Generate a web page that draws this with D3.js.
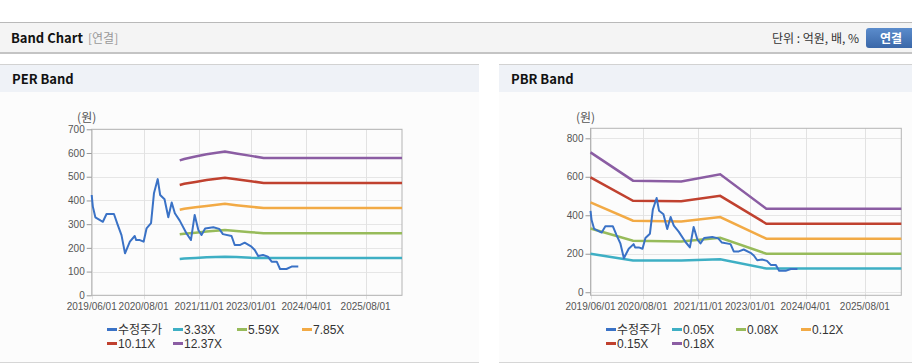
<!DOCTYPE html>
<html>
<head>
<meta charset="utf-8">
<script src="https://cdn.jsdelivr.net/npm/d3@7"></script>
<style>
  body { margin: 0; background: #fff; }
  svg { display: block; font-family: "Noto Sans CJK KR", "Liberation Sans", sans-serif; }
  .tick-label { font-family: "Liberation Sans", Arial, sans-serif; font-size: 10px; fill: #555; }
  .legend-label { font-family: "Liberation Sans", "Noto Sans CJK KR", sans-serif; font-size: 12px; fill: #333; }
</style>
</head>
<body>
<svg id="chart" width="912" height="364"></svg>
<script>
// adjusted share price (수정주가)
const priceDates = ['2019-06-01','2019-06-10','2019-07-01','2019-08-15','2019-09-01','2019-10-01','2019-12-01',
  '2020-01-01','2020-02-01','2020-03-01','2020-04-10','2020-05-20','2020-06-01','2020-07-01','2020-08-01',
  '2020-08-25','2020-10-01','2020-10-25','2020-11-25','2020-12-15','2021-01-20','2021-02-20','2021-03-20',
  '2021-04-15','2021-05-25','2021-07-20','2021-08-25','2021-09-25','2021-10-25','2021-11-20','2021-12-20',
  '2022-02-25','2022-04-15','2022-05-15','2022-07-25','2022-08-20','2022-10-01','2022-11-10','2023-01-05',
  '2023-02-01','2023-03-01','2023-04-10','2023-05-20','2023-06-20','2023-08-01','2023-08-28','2023-10-20',
  '2023-12-01','2024-01-25'];
const priceValues = [423, 375, 329, 315, 310, 343, 343,
  297, 254, 177, 226, 250, 233, 233, 226,
  282, 304, 430, 490, 423, 405, 329, 391,
  346, 315, 261, 233, 339, 275, 254, 282,
  287, 280, 258, 250, 212, 212, 222, 205,
  191, 166, 170, 163, 142, 142, 111, 111,
  121, 121];

// PER band
const perDates = ['2021-05-25','2021-07-01','2021-10-01','2022-01-01','2022-06-01','2022-09-01','2023-01-01','2023-04-15','2026-05-27'];
const per333 = [153, 155, 157, 160, 163, 161, 158, 157, 157];
const per559 = [257, 260, 264, 269, 275, 271, 266, 262, 262];
const per785 = [361, 365, 371, 377, 386, 380, 373, 368, 368];
const per1011 = [465, 470, 478, 486, 496, 489, 481, 474, 474];
const per1237 = [569, 575, 585, 595, 606, 598, 588, 579, 579];

// PBR band
const pbrDates = ['2019-06-01','2020-05-15','2021-06-15','2022-05-01','2023-05-15','2026-05-27'];
const pbr005 = [200, 165, 165, 171, 123, 123];
const pbr008 = [331, 268, 264, 283, 200, 200];
const pbr012 = [467, 372, 367, 391, 278, 278];
const pbr015 = [597, 475, 473, 501, 356, 356];
const pbr018 = [727, 580, 576, 613, 434, 434];

const xTickLabels = ['2019/06/01','2020/08/01','2021/11/01','2023/01/01','2024/04/01','2025/08/01'];
const xDomain = ['2019-06-01', '2026-05-27'];
const perYTicks = [0, 100, 200, 300, 400, 500, 600, 700];
const pbrYTicks = [0, 200, 400, 600, 800];

const perLabels = ['수정주가', '3.33X', '5.59X', '7.85X', '10.11X', '12.37X'];
const pbrLabels = ['수정주가', '0.05X', '0.08X', '0.12X', '0.15X', '0.18X'];
const colors = ['#3a72c6', '#3eafc4', '#97bb5a', '#f2aa45', '#c0412f', '#8b5da3'];

const parse = d3.timeParse('%Y-%m-%d');
const parseTick = d3.timeParse('%Y/%m/%d');
const svg = d3.select('#chart');

// top header bar
svg.append('rect').attr('x', 0).attr('y', 22).attr('width', 912).attr('height', 31)
  .attr('fill', '#f4f4f4');
svg.append('line').attr('x1', 0).attr('x2', 912).attr('y1', 22.5).attr('y2', 22.5)
  .attr('stroke', '#b9b9b9');
svg.append('line').attr('x1', 0).attr('x2', 912).attr('y1', 53).attr('y2', 53)
  .attr('stroke', '#c4c4c4').attr('stroke-width', 2);
svg.append('text').attr('x', 11).attr('y', 43).attr('font-size', 13).attr('font-weight', 'bold')
  .attr('fill', '#111').text('Band Chart');
svg.append('text').attr('x', 88).attr('y', 43).attr('font-size', 12)
  .attr('fill', '#999').text('[연결]');
svg.append('text').attr('x', 859).attr('y', 43).attr('font-size', 12).attr('text-anchor', 'end')
  .attr('fill', '#333').text('단위 : 억원, 배, %');

const grad = svg.append('defs').append('linearGradient').attr('id', 'btn')
  .attr('x1', 0).attr('x2', 0).attr('y1', 0).attr('y2', 1);
grad.append('stop').attr('offset', '0%').attr('stop-color', '#5b8ccc');
grad.append('stop').attr('offset', '100%').attr('stop-color', '#3a67a8');
svg.append('rect').attr('x', 866).attr('y', 28).attr('width', 50).attr('height', 20).attr('rx', 3)
  .attr('fill', 'url(#btn)');
svg.append('text').attr('x', 891).attr('y', 42.5).attr('font-size', 12).attr('font-weight', 'bold')
  .attr('text-anchor', 'middle').attr('fill', '#fff').text('연결');

function drawPanel(cfg) {
  const g = svg.append('g');

  // panel frame
  g.append('rect').attr('x', cfg.px).attr('y', 64).attr('width', cfg.pw).attr('height', 299)
    .attr('fill', '#fcfcfc');
  g.append('rect').attr('x', cfg.px).attr('y', 64).attr('width', cfg.pw).attr('height', 28)
    .attr('fill', '#eff2f7');
  g.append('line').attr('x1', cfg.px).attr('x2', cfg.px + cfg.pw).attr('y1', 64.5).attr('y2', 64.5)
    .attr('stroke', '#d2d2d2');
  g.append('line').attr('x1', cfg.px).attr('x2', cfg.px + cfg.pw).attr('y1', 362.5).attr('y2', 362.5)
    .attr('stroke', '#d6d6d6');
  g.append('text').attr('x', cfg.px + 12).attr('y', 84).attr('font-size', 13).attr('font-weight', 'bold')
    .attr('fill', '#111').text(cfg.title);

  const x = d3.scaleTime().domain(xDomain.map(parse)).range([cfg.left, cfg.right]);
  const y = d3.scaleLinear().domain(cfg.yDomain).range([cfg.bottom, cfg.top]);

  // grid
  g.append('g').selectAll('line').data(cfg.yTicks).enter().append('line')
    .attr('x1', cfg.left).attr('x2', cfg.right)
    .attr('y1', d => Math.round(y(d)) + 0.5).attr('y2', d => Math.round(y(d)) + 0.5)
    .attr('stroke', '#e6e6e6');
  g.append('g').selectAll('line').data(xTickLabels).enter().append('line')
    .attr('x1', d => Math.round(x(parseTick(d))) + 0.5).attr('x2', d => Math.round(x(parseTick(d))) + 0.5)
    .attr('y1', cfg.top).attr('y2', cfg.bottom + 4)
    .attr('stroke', '#e2e2e2');

  // border
  g.append('rect').attr('x', cfg.left).attr('y', cfg.top)
    .attr('width', cfg.right - cfg.left).attr('height', cfg.bottom - cfg.top)
    .attr('fill', 'none').attr('stroke', '#b4b4b4');

  // y axis
  const yAxis = g.append('g').attr('transform', `translate(${cfg.left},0)`)
    .call(d3.axisLeft(y).tickValues(cfg.yTicks).tickSize(5).tickPadding(2));
  yAxis.select('.domain').remove();
  yAxis.selectAll('line').attr('stroke', '#999');
  yAxis.selectAll('text').attr('class', 'tick-label').attr('font-family', null).attr('font-size', null);

  // x tick labels
  g.append('g').selectAll('text').data(xTickLabels).enter().append('text')
    .attr('class', 'tick-label')
    .attr('x', d => x(parseTick(d))).attr('y', cfg.bottom + 15)
    .attr('text-anchor', 'middle').text(d => d);

  g.append('text').attr('x', cfg.left - 5).attr('y', 122).attr('font-size', 12)
    .attr('text-anchor', 'middle').attr('fill', '#555').text('(원)');

  const line = d3.line().x(d => x(d[0])).y(d => y(d[1]));

  cfg.bands.forEach((vals, i) => {
    g.append('path')
      .datum(cfg.bandDates.map((d, j) => [parse(d), vals[j]]))
      .attr('d', line).attr('fill', 'none')
      .attr('stroke', colors[i + 1]).attr('stroke-width', 2.5);
  });

  g.append('path')
    .datum(priceDates.map((d, j) => [parse(d), priceValues[j]]))
    .attr('d', line).attr('fill', 'none')
    .attr('stroke', colors[0]).attr('stroke-width', 2).attr('stroke-linejoin', 'round');

  // legend
  const cols = [0, 66, 130, 195];
  const legend = g.append('g').selectAll('g').data(cfg.labels).enter().append('g')
    .attr('transform', (d, i) => `translate(${cfg.px + 107 + cols[i % 4]},${i < 4 ? 329.5 : 343.5})`);
  legend.append('line').attr('x1', 0).attr('x2', 10).attr('y1', 0).attr('y2', 0)
    .attr('stroke', (d, i) => colors[i]).attr('stroke-width', 3);
  legend.append('text').attr('class', 'legend-label').attr('x', 11).attr('y', 4.5)
    .text(d => d);
}

drawPanel({
  title: 'PER Band', px: 0, pw: 479,
  left: 91.7, right: 402, top: 129.3, bottom: 295.3,
  yDomain: [0, 700], yTicks: perYTicks,
  bandDates: perDates, bands: [per333, per559, per785, per1011, per1237],
  labels: perLabels
});

drawPanel({
  title: 'PBR Band', px: 499, pw: 413,
  left: 590.5, right: 901.3, top: 128.3, bottom: 295.3,
  yDomain: [-16, 852], yTicks: pbrYTicks,
  bandDates: pbrDates, bands: [pbr005, pbr008, pbr012, pbr015, pbr018],
  labels: pbrLabels
});
</script>
</body>
</html>
